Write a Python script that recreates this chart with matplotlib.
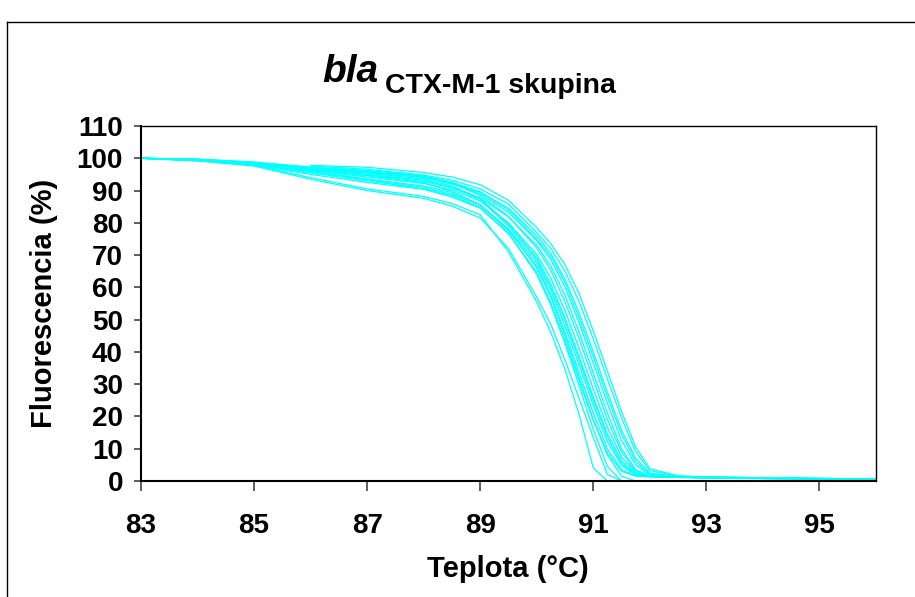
import numpy as np
import matplotlib
matplotlib.use("Agg")
import matplotlib.pyplot as plt
from matplotlib.lines import Line2D

plt.rcParams['font.family'] = ['Liberation Sans', 'DejaVu Sans']

nan = np.nan

# temperature grid (°C) shared by all melting curves
teplota = [83, 84, 85, 86, 87, 88, 88.5, 89, 89.5, 90, 90.25, 90.5, 90.75,
           91, 91.25, 91.5, 91.75, 92, 92.5, 93, 94, 95, 96]

# fluorescence (%), one list per sample
krivky = [
    [nan, nan, nan, 97.8, 97.2, 95.6, 94.2, 91.8, 87, 78.5, 73.5, 67, 58, 46.5, 34, 21.5, 10.5, 3.8, 1.6, 1.3, 1.0, 0.8, 0.6],
    [nan, nan, nan, 97.6, 96.6, 94.8, 93.2, 90.5, 85.8, 77, 72, 65, 55.5, 44, 31.5, 19.5, 9, 3.2, 1.5, 1.2, 1.0, 0.8, 0.6],
    [100, 99.6, 98.6, 96.9, 95.6, 94, 92.2, 89.5, 84.5, 76, 70.5, 62.5, 52, 40, 27.5, 15.8, 7, 2.4, 1.4, 1.2, 0.9, 0.7, 0.5],
    [100, 99.7, 98.7, 97, 95.8, 94.2, 92, 89, 83.2, 74.5, 68.5, 60, 49, 36.5, 24, 12.5, 5, 1.8, 1.3, 1.1, 0.9, 0.7, 0.5],
    [100, 99.6, 98.5, 96.6, 94.8, 92.8, 90.8, 87.8, 81.8, 73, 66.5, 57.5, 46, 33.5, 21, 10, 3.5, 1.5, 1.4, 1.2, 1.0, 0.8, 0.6],
    [100, 99.7, 98.8, 97.3, 96.2, 94.6, 92.4, 88.5, 82, 72.2, 65.2, 55.5, 44, 31.5, 19, 9, 3.1, 1.4, 1.3, 1.1, 0.9, 0.7, 0.5],
    [100, 99.5, 98.3, 96.2, 94.2, 92.2, 90.2, 86.8, 80, 70.2, 62.8, 52.8, 41, 28.5, 16.6, 7.4, 2.6, 1.5, 1.3, 1.1, 0.9, 0.7, 0.5],
    [100, 99.6, 98.6, 96.8, 95.4, 93.6, 91.4, 87.6, 79.6, 69.2, 61, 50.5, 38.5, 26, 14.5, 6.2, 2.2, 1.4, 1.2, 1.0, 0.8, 0.6, 0.4],
    [100, 99.4, 98.2, 95.9, 93.6, 91.4, 89.4, 85.6, 78, 67.6, 59, 48, 36, 23.5, 12.2, 4.8, 1.9, 1.4, 1.2, 1.0, 0.8, 0.6, 0.4],
    [100, 99.5, 98.4, 96.4, 94.6, 92.4, 89.8, 85.5, 77.5, 66.5, 57.5, 46, 33.5, 21, 10, 3.5, 1.6, 1.3, 1.2, 1.0, 0.8, 0.6, 0.4],
    [100, 99.3, 98, 95.5, 93, 90.6, 88.4, 84.8, 76.6, 64.7, 55.2, 43.5, 31, 18.8, 8.7, 3, 1.5, 1.3, 1.1, 0.9, 0.7, 0.6, 0.4],
    [100, 99.6, 98.5, 96.5, 95, 93.2, 91, 87.2, 79, 68.5, 60, 49.5, 37.5, 25, 13.5, 5.5, 2, 1.4, 1.2, 1.0, 0.8, 0.6, 0.5],
    [100, 99.7, 98.8, 97.1, 96, 94.4, 92.6, 89.6, 84, 75, 69.5, 61.5, 50.5, 38.5, 26, 14.5, 6, 2.1, 1.4, 1.2, 1.0, 0.8, 0.6],
    [100, 99.4, 98.2, 95.8, 93.4, 91, 88.8, 85.5, 78, 66, 57, 45, 32, 19, 8, 1.5, 0, 0, 0, 0, 0, 0, 0],
    [100, 99.2, 97.8, 95, 92.5, 90.4, 88, 84.5, 76.8, 64, 54.5, 42.5, 29.5, 16, 4.5, 0, 0, 0, 0, 0, 0, 0, 0],
    [100, 99.3, 97.8, 94, 90.5, 88.2, 86, 82.5, 71, 55.5, 46, 34.5, 20.5, 4, 0, 0, 0, 0, 0, 0, 0, 0, 0],
    [100, 99.2, 97.6, 93.5, 90, 87.6, 85.2, 81.5, 72, 57, 48.5, 37.5, 25.5, 13.5, 2, 0, 0, 0, 0, 0, 0, 0, 0],
]

x_ticks = [83, 85, 87, 89, 91, 93, 95]
y_ticks = [0, 10, 20, 30, 40, 50, 60, 70, 80, 90, 100, 110]

W, H = 915, 597
fig = plt.figure(figsize=(W / 100, H / 100), dpi=100)
ax = fig.add_axes([141 / W, 1 - 481 / H, (876 - 141) / W, (481 - 126) / H])

for k in krivky:
    ax.plot(teplota, k, color='#00FFFF', lw=0.9)

ax.set_xlim(83, 96)
ax.set_ylim(0, 110)
ax.set_xticks(x_ticks)
ax.set_yticks(y_ticks)
ax.tick_params(axis='x', direction='out', length=7, width=1.2, pad=16,
               labelsize=20, color='#444444')
ax.tick_params(axis='y', direction='out', length=5, width=1.2, pad=8,
               labelsize=20, color='#444444')
for lab in ax.get_xticklabels() + ax.get_yticklabels():
    lab.set_fontweight('bold')
for s in ['left', 'bottom']:
    ax.spines[s].set_linewidth(1.5)
for s in ['top', 'right']:
    ax.spines[s].set_linewidth(1.0)

# labels and title
fig.text(44 / W, 1 - 303 / H, 'Fluorescencia (%)', rotation=90, ha='center',
         va='center', fontsize=21, fontweight='bold')
fig.text(508 / W, 1 - 569 / H, 'Teplota (°C)', ha='center', va='center',
         fontsize=21, fontweight='bold')
fig.text(322 / W, 1 - 82 / H, 'bla', ha='left', va='baseline', fontsize=28,
         fontweight='bold', fontstyle='italic')
fig.text(385 / W, 1 - 93 / H, 'CTX-M-1 skupina', ha='left', va='baseline',
         fontsize=20.5, fontweight='bold')

# outer border of the chart area
fig.add_artist(Line2D([7 / W, 7 / W], [0, 1 - 22 / H], color='black', lw=1))
fig.add_artist(Line2D([7 / W, 1], [1 - 22 / H, 1 - 22 / H], color='black', lw=1))

fig.savefig('out.png', dpi=100)
